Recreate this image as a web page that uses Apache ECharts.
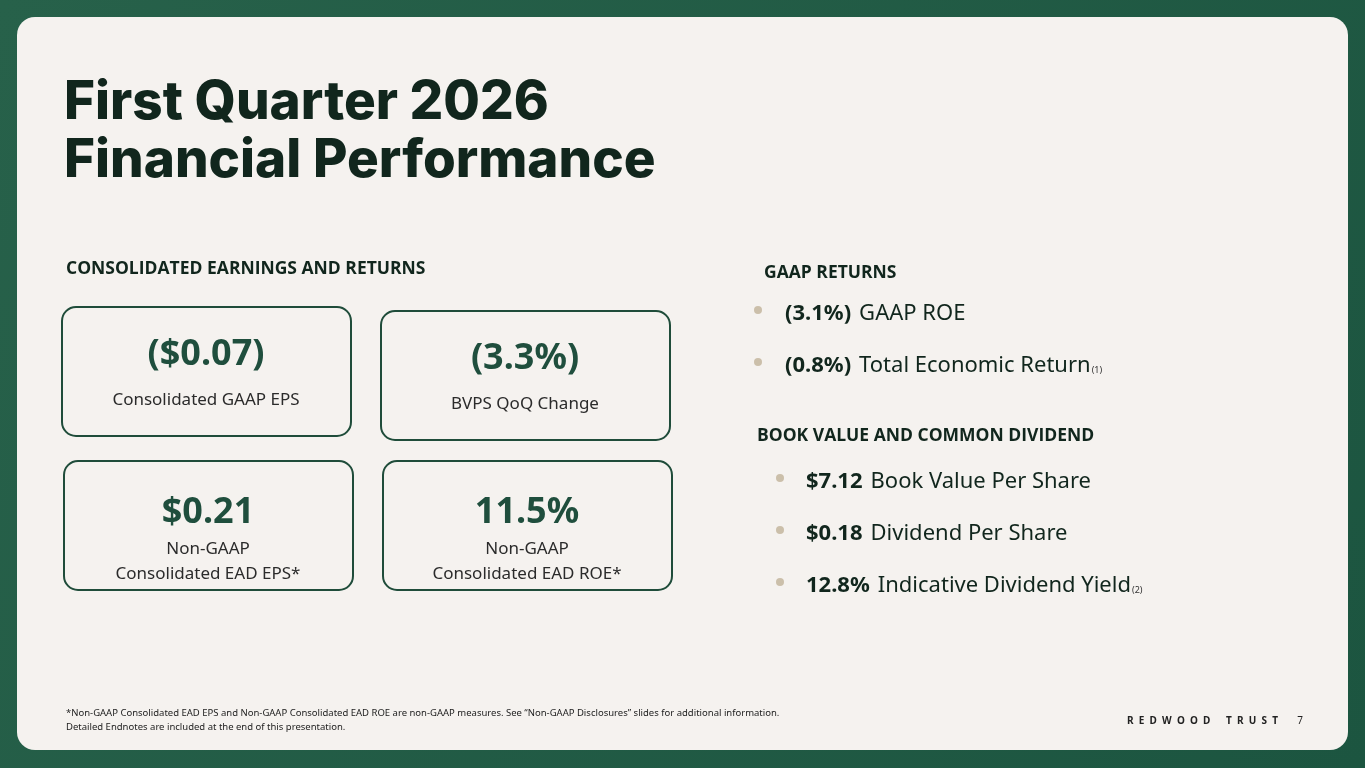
<!DOCTYPE html>
<html><head><meta charset="utf-8">
<script src="https://cdn.jsdelivr.net/npm/echarts@6/dist/echarts.min.js"></script>
<style>html,body{margin:0;padding:0;}#c{width:1365px;height:768px;}</style>
</head><body><div id="c"></div>
<script>
const titleLines = ['First Quarter 2026', 'Financial Performance'];
const kpiValues = ['($0.07)', '(3.3%)', '$0.21', '11.5%'];
const kpiLabels = ['Consolidated GAAP EPS', 'BVPS QoQ Change', 'Non-GAAP\nConsolidated EAD EPS*', 'Non-GAAP\nConsolidated EAD ROE*'];
const gaapBold = ['(3.1%)', '(0.8%)'];
const gaapText = ['GAAP ROE', 'Total Economic Return'];
const gaapNote = ['', '(1)'];
const bookBold = ['$7.12', '$0.18', '12.8%'];
const bookText = ['Book Value Per Share', 'Dividend Per Share', 'Indicative Dividend Yield'];
const bookNote = ['', '', '(2)'];
const footnotes = ['*Non-GAAP Consolidated EAD EPS and Non-GAAP Consolidated EAD ROE are non-GAAP measures. See “Non-GAAP Disclosures” slides for additional information.', 'Detailed Endnotes are included at the end of this presentation.'];

const chart = echarts.init(document.getElementById('c'));
const H = 'bold 17.5px "Open Sans"';
const els = [];
els.push({type:'rect', shape:{x:0,y:0,width:1365,height:768}, style:{fill:new echarts.graphic.LinearGradient(0,0,1,1,[{offset:0,color:'#27614a'},{offset:1,color:'#1c5540'}])}});
els.push({type:'rect', shape:{x:17,y:17,width:1331,height:733,r:18}, style:{fill:'#f5f2ef'}});
titleLines.forEach((t,i)=>els.push({type:'text', x:64, y:103+i*58, style:{text:t, font:'800 53px Inter', fill:'#11261d', verticalAlign:'middle'}}));
els.push({type:'text', x:66, y:269, style:{text:'CONSOLIDATED EARNINGS AND RETURNS', font:H, fill:'#11261d', verticalAlign:'middle'}});
const boxes = [[62,307],[381,311],[64,461],[383,461]];
kpiValues.forEach((v,i)=>{
  const [x,y]=boxes[i];
  els.push({type:'rect', shape:{x:x,y:y,width:289,height:129,r:14}, style:{fill:'none',stroke:'#1f4c3a',lineWidth:2}});
  const two = kpiLabels[i].indexOf('\n')>=0;
  els.push({type:'text', x:x+144, y:y+(two?52:48), style:{text:v, font:'bold 36px "Noto Sans"', fill:'#1f4e3d', align:'center', verticalAlign:'middle'}});
  els.push({type:'text', x:x+144, y:y+(two?101:93), style:{text:kpiLabels[i], font:'17px "Noto Sans"', fill:'#2b2b2b', align:'center', verticalAlign:'middle', lineHeight:25}});
});
function bullet(dx,tx,y,b,t,n){
  els.push({type:'circle', shape:{cx:dx,cy:y-4,r:4}, style:{fill:'#cbbfaa'}});
  els.push({type:'text', x:tx, y:y, style:{text:'{b|'+b+'}{s| }{t|'+t+'}{n|'+n+'}', verticalAlign:'middle', rich:{b:{font:'bold 22px "Noto Sans"',fill:'#11261d'},s:{font:'22px "Noto Sans"',width:8},t:{font:'22px "Noto Sans"',fill:'#11261d'},n:{font:'9px "Noto Sans"',fill:'#333',padding:[8,0,0,1]}}}});
}
els.push({type:'text', x:764, y:273, style:{text:'GAAP RETURNS', font:H, fill:'#11261d', verticalAlign:'middle'}});
gaapBold.forEach((b,i)=>bullet(758,785,314+i*52,b,gaapText[i],gaapNote[i]));
els.push({type:'text', x:757, y:436, style:{text:'BOOK VALUE AND COMMON DIVIDEND', font:H, fill:'#11261d', verticalAlign:'middle'}});
bookBold.forEach((b,i)=>bullet(780,806,482+i*52,b,bookText[i],bookNote[i]));
footnotes.forEach((t,i)=>els.push({type:'text', x:66, y:713+i*14, style:{text:t, font:'9.5px "Noto Sans"', fill:'#222', verticalAlign:'middle'}}));
els.push({type:'text', x:1278, y:721, style:{text:'R  E  D  W  O  O  D      T  R  U  S  T', font:'bold 10px "Noto Sans"', fill:'#222', align:'right', verticalAlign:'middle'}});
els.push({type:'text', x:1303, y:721, style:{text:'7', font:'10px "Noto Sans"', fill:'#222', align:'right', verticalAlign:'middle'}});
chart.setOption({animation:false, graphic:{elements:els}});
</script></body></html>
